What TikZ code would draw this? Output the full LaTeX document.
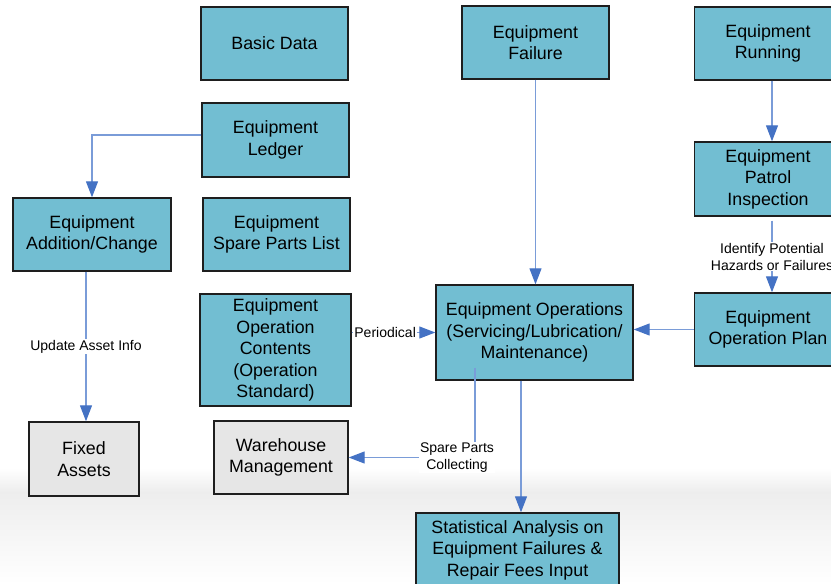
\documentclass[tikz,border=0pt]{standalone}
\usepackage{fontspec}
\setmainfont{Liberation Sans}
\usetikzlibrary{positioning,arrows.meta,calc}
\definecolor{boxblue}{RGB}{114,190,210}
\definecolor{boxgrey}{RGB}{230,230,230}
\definecolor{boxline}{RGB}{30,30,30}
\definecolor{linkblue}{RGB}{122,156,216}
\definecolor{tipblue}{RGB}{68,114,196}
\tikzset{
  stepbox/.style={draw=boxline,fill=boxblue,line width=1.4pt,align=center,inner sep=2pt,
    font={\fontsize{17.8}{21.5}\selectfont}},
  greybox/.style={stepbox,fill=boxgrey},
  flow/.style={draw=linkblue,line width=1.2pt,
    -{Triangle[length=16pt,width=12pt,color=tipblue]}},
  lbl/.style={fill=white,inner sep=1pt,align=center,
    font={\fontsize{14}{17}\selectfont}},
}
\begin{document}
\begin{tikzpicture}[x=1pt,y=-1pt]
  \useasboundingbox (0,0) rectangle (831,584);
  % faint band at the bottom
  \shade[top color=white,bottom color=black!7] (0,468) rectangle (831,492);
  \shade[top color=black!7,bottom color=white] (0,492) rectangle (831,584);
  % left and middle columns
  \node[stepbox,minimum width=147pt,minimum height=73pt] (basic) at (274.5,43.5) {Basic Data};
  \node[stepbox,minimum width=147pt,minimum height=74pt] (ledger) at (275.5,140) {Equipment\\Ledger};
  \node[stepbox,minimum width=147pt,minimum height=73pt] (spare) at (276.5,234.5) {Equipment\\Spare Parts List};
  \node[stepbox,minimum width=158pt,minimum height=73pt] (addchg) at (92,234.5) {Equipment\\Addition/Change};
  \node[stepbox,minimum width=151pt,minimum height=112pt] (contents) at (275.5,350) {Equipment\\Operation\\Contents\\(Operation\\Standard)};
  \node[greybox,minimum width=110pt,minimum height=74pt] (fixed) at (84,459) {Fixed\\Assets};
  \node[greybox,minimum width=134pt,minimum height=73pt] (warehouse) at (281,457.5) {Warehouse\\Management};
  % right columns
  \node[stepbox,minimum width=147pt,minimum height=73pt] (failure) at (535.5,42.5) {Equipment\\Failure};
  \node[stepbox,minimum width=147pt,minimum height=73pt] (running) at (768,43.5) {Equipment\\Running};
  \node[stepbox,minimum width=147pt,minimum height=74pt] (patrol) at (768,179) {Equipment\\Patrol\\Inspection};
  \node[stepbox,minimum width=147pt,minimum height=73pt] (plan) at (768,329.5) {Equipment\\Operation Plan};
  \node[stepbox,minimum width=197pt,minimum height=95pt] (ops) at (534.5,332.5) {Equipment Operations\\(Servicing/Lubrication/\\Maintenance)};
  \node[stepbox,minimum width=203pt,minimum height=74pt] (stats) at (517.5,550) {Statistical Analysis on\\Equipment Failures \&\\Repair Fees Input};
  % connectors
  \draw[flow] ([yshift=5pt]ledger.west) -| (addchg.north);
  \draw[flow] ([xshift=-6pt]addchg.south) -- ([xshift=-6pt]addchg.south |- fixed.north)
    node[lbl,midway]{Update Asset Info};
  \draw[flow] (contents.east |- ops.west) -- (ops.west) node[lbl,pos=0.4]{Periodical};
  \draw[flow] (failure.south) -- (failure.south |- ops.north);
  \draw[flow] ([xshift=4pt]running.south) -- ([xshift=4pt]patrol.north);
  \draw[flow] ([shift={(4pt,-4pt)}]patrol.south) -- ([xshift=4pt]plan.north)
    node[lbl,midway]{Identify Potential\\Hazards or Failures};
  \draw[flow] (plan.west) -- (plan.west -| ops.east);
  \draw[flow] ([shift={(-59.5pt,13pt)}]ops.south) |- (warehouse.east)
    node[lbl,pos=0.5,xshift=-18pt]{Spare Parts\\Collecting};
  \draw[flow] ([xshift=-13.5pt]ops.south) -- ([xshift=-13.5pt]ops.south |- stats.north);
\end{tikzpicture}
\end{document}
